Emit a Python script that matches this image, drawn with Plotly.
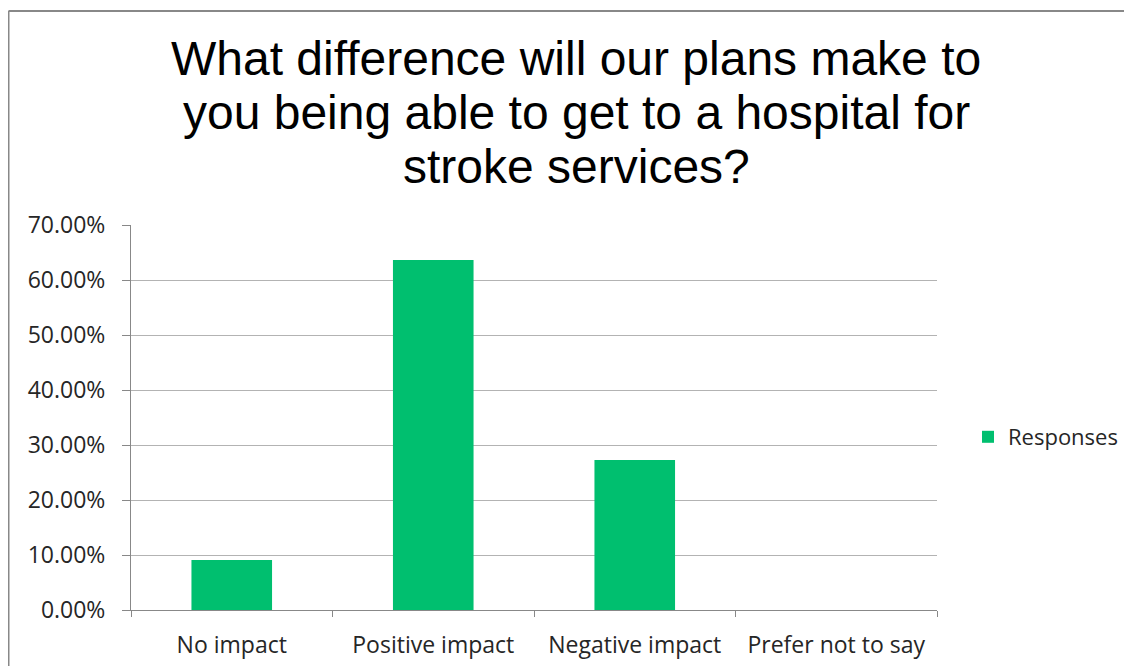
import plotly.graph_objects as go

categories = ["No impact", "Positive impact", "Negative impact", "Prefer not to say"]
responses = [0.0909, 0.6364, 0.2727, 0.0]
series_name = "Responses"
title_lines = [
    "What difference will our plans make to",
    "you being able to get to a hospital for",
    "stroke services?",
]

OFF = 8  # page offset of the figure inside the browser window (body margin)
W, H = 1132 - OFF, 666 - OFF
# target plot area in page pixels: x 131..937, y 225..610
L = 131 - OFF
T = 225 - OFF
R = W - (937 - OFF)
B = H - (610 - OFF)
pw = W - L - R
ph = H - T - B


def px_x(page_x):
    return (page_x - OFF - L) / pw


def px_y(page_y):
    return (H - B - (page_y - OFF)) / ph


fig = go.Figure()
fig.add_trace(go.Bar(
    x=categories, y=responses, name=series_name,
    marker=dict(color="#00BF6F", line=dict(width=0)),
    showlegend=True,
))

title_y = [58, 112, 166]
annotations = [
    dict(text=t, xref="paper", yref="paper", x=px_x(576), y=px_y(yy),
         xanchor="center", yanchor="middle", showarrow=False,
         font=dict(family="Liberation Sans, Arial", size=48, color="#000000"))
    for t, yy in zip(title_lines, title_y)
]

fig.update_layout(
    width=W, height=H,
    margin=dict(l=L, r=R, t=T, b=B, autoexpand=False),
    paper_bgcolor="white", plot_bgcolor="white",
    bargap=0.6,
    annotations=annotations,
    showlegend=True,
    legend=dict(
        x=px_x(968), xanchor="left",
        y=px_y(437), yanchor="middle",
        font=dict(family="Open Sans", size=22, color="#262626"),
        bgcolor="rgba(0,0,0,0)",
        itemwidth=30,
    ),
    font=dict(family="Open Sans", size=23, color="#262626"),
    shapes=[
        dict(type="line", xref="paper", yref="paper",
             x0=px_x(8.5), x1=px_x(1150), y0=px_y(11), y1=px_y(11),
             line=dict(color="#888888", width=2)),
        dict(type="line", xref="paper", yref="paper",
             x0=px_x(8.5), x1=px_x(8.5), y0=px_y(11), y1=px_y(720),
             line=dict(color="#888888", width=2)),
    ],
)

fig.update_yaxes(
    range=[0, 0.7], dtick=0.1, tickformat=".2%",
    showgrid=True, gridcolor="#B3B3B3", gridwidth=1,
    showline=True, linecolor="#888888", linewidth=1,
    ticks="outside", ticklen=8, tickcolor="#888888",
    ticklabelstandoff=12,
    zeroline=False, automargin=False,
    tickfont=dict(family="Open Sans", size=23, color="#262626"),
    fixedrange=True,
)
fig.update_xaxes(
    showline=True, linecolor="#888888", linewidth=1,
    ticks="outside", ticklen=6, tickcolor="#888888",
    tickson="boundaries",
    ticklabelstandoff=14,
    showgrid=False, automargin=False,
    tickfont=dict(family="Open Sans", size=23, color="#262626"),
    fixedrange=True,
)

fig.write_html("out.html")
